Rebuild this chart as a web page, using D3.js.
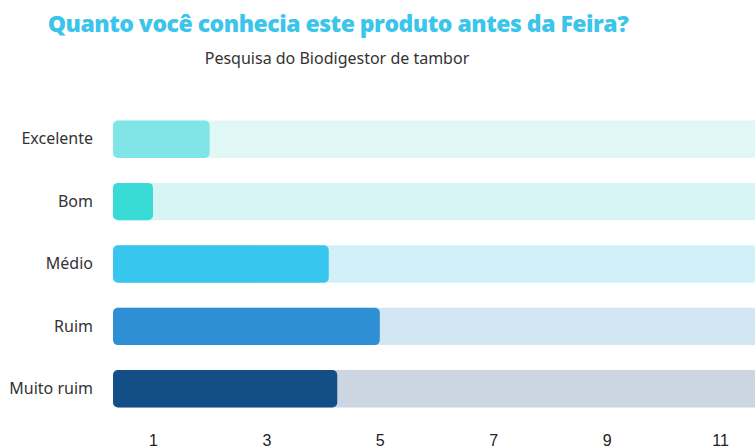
<!DOCTYPE html>
<html>
<head>
<meta charset="utf-8">
<script src="https://cdn.jsdelivr.net/npm/d3@7"></script>
<style>
  html, body { margin: 0; padding: 0; background: #fff; }
  #chart { width: 755px; height: 448px; }
</style>
</head>
<body>
<div id="chart"></div>
<script>
const categories = ["Excelente", "Bom", "Médio", "Ruim", "Muito ruim"];
const values = [2, 1, 4.1, 5, 4.25];
const barColors = ["#80e5e6", "#38dbd6", "#38c6ee", "#2e8fd4", "#134f86"];
const trackColors = ["#dff8f5", "#d7f5f4", "#d2f0f9", "#d3e6f4", "#cbd6e2"];
const tickValues = [1, 3, 5, 7, 9, 11];
const title = "Quanto você conhecia este produto antes da Feira?";
const subtitle = "Pesquisa do Biodigestor de tambor";

const width = 755;
const height = 448;
const margin = { top: 108, right: 0, bottom: 30, left: 113 };

const svg = d3.select("#chart")
  .append("svg")
  .attr("width", width)
  .attr("height", height);

// value scale: 0 sits a little left of where the bars start
const x = d3.scaleLinear().domain([0, 12]).range([96.3, 96.3 + 12 * 56.7]);

const y = d3.scaleBand()
  .domain(categories)
  .range([margin.top, margin.top + 5 * 62.4])
  .paddingInner(0.4)
  .paddingOuter(0.2);

svg.append("text")
  .attr("x", 338)
  .attr("y", 32)
  .attr("text-anchor", "middle")
  .style("font-family", "'Open Sans', sans-serif")
  .style("font-weight", 800)
  .style("font-size", "23px")
  .style("letter-spacing", "-0.5px")
  .style("fill", "#3cc5ea")
  .text(title);

svg.append("text")
  .attr("x", 337)
  .attr("y", 64)
  .attr("text-anchor", "middle")
  .style("font-family", "'Noto Sans', sans-serif")
  .style("font-size", "16px")
  .style("fill", "#333")
  .text(subtitle);

const data = categories.map((c, i) => ({
  name: c, value: values[i], color: barColors[i], track: trackColors[i]
}));

const rows = svg.selectAll(".row").data(data).enter().append("g").attr("class", "row");

rows.append("rect")
  .attr("x", margin.left)
  .attr("y", d => y(d.name))
  .attr("width", width + 20 - margin.left)
  .attr("height", y.bandwidth())
  .attr("rx", 5)
  .attr("fill", d => d.track);

rows.append("rect")
  .attr("x", margin.left)
  .attr("y", d => y(d.name))
  .attr("width", d => x(d.value) - margin.left)
  .attr("height", y.bandwidth())
  .attr("rx", 5)
  .attr("fill", d => d.color);

// category labels
const yAxis = svg.append("g")
  .attr("transform", `translate(${margin.left - 20}, 0)`)
  .call(d3.axisLeft(y).tickSize(0).tickPadding(0));
yAxis.select(".domain").remove();
yAxis.selectAll("text")
  .style("font-family", "'Noto Sans', sans-serif")
  .style("font-size", "16px")
  .style("fill", "#333");

// value axis
const xAxis = svg.append("g")
  .attr("transform", `translate(0, ${height - 13})`)
  .call(d3.axisBottom(x).tickValues(tickValues).tickSize(0).tickPadding(0));
xAxis.select(".domain").remove();
xAxis.selectAll("text")
  .attr("dy", "0.71em")
  .style("font-family", "'Liberation Sans', sans-serif")
  .style("font-size", "16px")
  .style("fill", "#222");
</script>
</body>
</html>
